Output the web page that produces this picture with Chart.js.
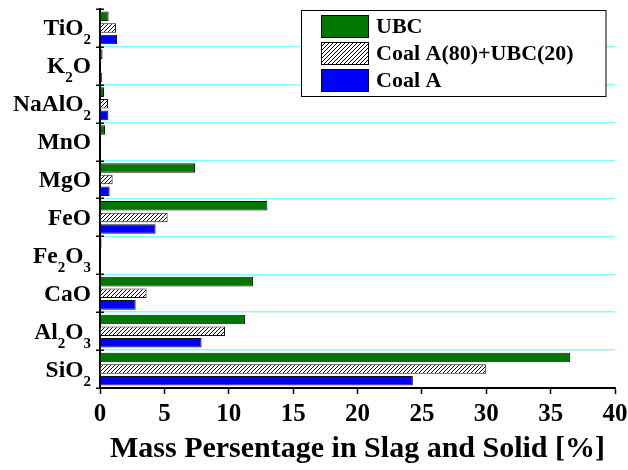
<!DOCTYPE html>
<html>
<head>
<meta charset="utf-8">
<script src="https://cdn.jsdelivr.net/npm/chart.js@4/dist/chart.umd.min.js"></script>
<style>
html, body { margin: 0; padding: 0; background: #fff; }
</style>
</head>
<body>
<canvas id="chart" width="628" height="470"></canvas>
<script>
// oxides, top to bottom (digits are drawn as subscripts)
const oxides = ["TiO2", "K2O", "NaAlO2", "MnO", "MgO", "FeO", "Fe2O3", "CaO", "Al2O3", "SiO2"];
const seriesNames = ["UBC", "Coal A(80)+UBC(20)", "Coal A"];
const ubc   = [0.67, 0.20, 0.31, 0.39, 7.38, 13.0, 0.12, 11.88, 11.26, 36.5];
const blend = [1.24, 0.05, 0.62, 0.05, 0.98, 5.25, 0.04, 3.62, 9.71, 30.0];
const coalA = [1.32, 0.15, 0.65, 0.05, 0.75, 4.32, 0.03, 2.77, 7.89, 24.3];
const xMin = 0, xMax = 40, xStep = 5;
const xTitle = "Mass Persentage in Slag and Solid [%]";

const serif = "'Liberation Serif', 'Times New Roman', serif";
const green = "#007700";
const blue = "#0000ff";

function makeHatch() {
    const tile = document.createElement("canvas");
    tile.width = 4;
    tile.height = 4;
    const g = tile.getContext("2d");
    g.fillStyle = "#fff";
    g.fillRect(0, 0, 4, 4);
    g.strokeStyle = "#000";
    g.lineWidth = 1;
    g.beginPath();
    g.moveTo(-1, 5); g.lineTo(5, -1);
    g.moveTo(-3, 3); g.lineTo(3, -3);
    g.moveTo(1, 7); g.lineTo(7, 1);
    g.stroke();
    return document.getElementById("chart").getContext("2d").createPattern(tile, "repeat");
}
const hatch = makeHatch();
const fills = [green, hatch, blue];

// draws "Fe2O3" style text, digits lowered and smaller; right aligned at x
function drawFormula(ctx, text, x, y, size, subSize) {
    const parts = text.match(/\d+|\D+/g);
    const font = (s) => "bold " + s + "px " + serif;
    let total = 0;
    parts.forEach(p => {
        ctx.font = font(/\d/.test(p) ? subSize : size);
        total += ctx.measureText(p).width;
    });
    let cx = x - total;
    parts.forEach(p => {
        const sub = /\d/.test(p);
        ctx.font = font(sub ? subSize : size);
        ctx.fillText(p, cx, sub ? y + 9 : y);
        cx += ctx.measureText(p).width;
    });
}

const decorations = {
    id: "decorations",
    afterDraw(chart) {
        const ctx = chart.ctx;
        const y = chart.scales.y;
        const area = chart.chartArea;
        ctx.save();

        // category boundary ticks crossing the left axis
        const n = oxides.length;
        const step = y.getPixelForTick(1) - y.getPixelForTick(0);
        ctx.strokeStyle = "#000";
        ctx.lineWidth = 1.5;
        for (let i = 0; i <= n; i++) {
            const py = Math.round(y.getPixelForTick(0) - step / 2 + i * step) + 0.25;
            ctx.beginPath();
            ctx.moveTo(area.left - 4, py);
            ctx.lineTo(area.left + 4, py);
            ctx.stroke();
        }

        // oxide labels
        ctx.fillStyle = "#000";
        ctx.textBaseline = "alphabetic";
        ctx.textAlign = "left";
        oxides.forEach((name, i) => {
            drawFormula(ctx, name, 91, y.getPixelForTick(i) + 7.5, 23.5, 15);
        });

        // legend box
        const bx = 301.5, by = 10.5, bw = 304.5, bh = 86;
        ctx.fillStyle = "#fff";
        ctx.fillRect(bx, by, bw, bh);
        ctx.strokeStyle = "#000";
        ctx.lineWidth = 1;
        ctx.strokeRect(bx, by, bw, bh);
        seriesNames.forEach((name, i) => {
            const sy = 15 + i * 27;
            ctx.fillStyle = fills[i];
            ctx.fillRect(321, sy, 48, 23);
            ctx.strokeStyle = "#000";
            ctx.strokeRect(321.5, sy + 0.5, 47, 22);
            ctx.fillStyle = "#000";
            ctx.font = "bold 22px " + serif;
            ctx.textBaseline = "middle";
            ctx.fillText(name, 376, sy + 12);
        });
        ctx.restore();
    }
};

new Chart(document.getElementById("chart"), {
    type: "bar",
    data: {
        labels: oxides,
        datasets: [
            { label: seriesNames[0], data: ubc, backgroundColor: green },
            { label: seriesNames[1], data: blend, backgroundColor: hatch },
            { label: seriesNames[2], data: coalA, backgroundColor: blue }
        ].map(d => Object.assign(d, {
            borderColor: "#111",
            borderWidth: 1,
            categoryPercentage: 0.92,
            barPercentage: 0.82
        }))
    },
    options: {
        responsive: false,
        animation: false,
        indexAxis: "y",
        layout: { padding: { top: 9, right: 13, left: 0, bottom: 0 } },
        plugins: {
            legend: { display: false },
            tooltip: { enabled: false }
        },
        scales: {
            x: {
                min: xMin,
                max: xMax,
                ticks: {
                    stepSize: xStep,
                    color: "#000",
                    padding: 6,
                    font: { family: serif, size: 25, weight: "bold" }
                },
                grid: {
                    drawOnChartArea: false,
                    tickLength: 6,
                    tickColor: "#000",
                    tickWidth: 1.5
                },
                border: { color: "#000", width: 2 },
                title: {
                    display: true,
                    text: xTitle,
                    color: "#000",
                    padding: { top: 4, bottom: 3 },
                    font: { family: serif, size: 30, weight: "bold" }
                },
                afterFit: (s) => {
                    s.height = 82;
                    s.paddingLeft = 0;
                    s.paddingRight = 0;
                }
            },
            y: {
                ticks: { display: false },
                grid: {
                    color: (c) => c.index === 0 ? "rgba(0,0,0,0)" : "#80ffff",
                    lineWidth: 1.5,
                    drawTicks: false
                },
                border: { color: "#000", width: 2 },
                afterFit: (s) => { s.width = 100; }
            }
        }
    },
    plugins: [decorations]
});
</script>
</body>
</html>
